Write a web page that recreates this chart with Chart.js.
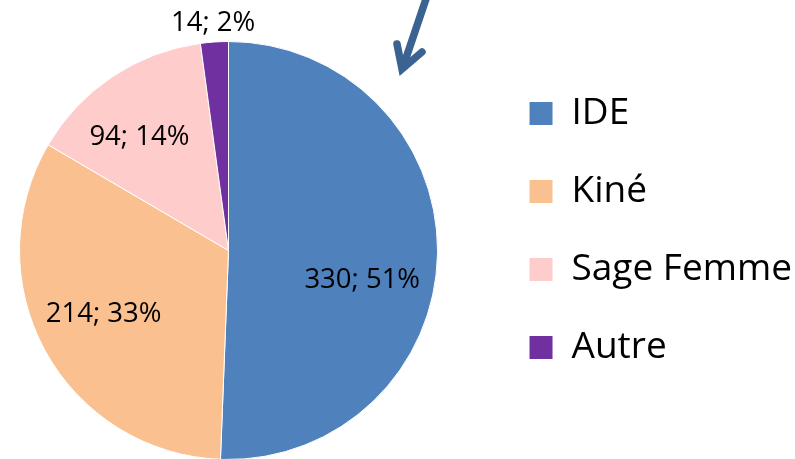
<!DOCTYPE html>
<html>
<head>
<meta charset="utf-8">
<script src="https://cdn.jsdelivr.net/npm/chart.js@4/dist/chart.umd.min.js"></script>
<style>
html, body { margin: 0; padding: 0; background: #fff; overflow: hidden; }
#wrap { width: 795px; height: 459px; position: relative; overflow: hidden; }
#box { position: absolute; left: -31px; top: 0; width: 833px; height: 459px; }
</style>
</head>
<body>
<div id="wrap"><div id="box"><canvas id="pieChart"></canvas></div></div>
<script>
// donnees
var categories = ['IDE', 'Kiné', 'Sage Femme', 'Autre'];
var counts = [330, 214, 94, 14];
var percents = [51, 33, 14, 2];

var sliceColors = ['#4F81BD', '#FAC090', '#FFCCCC', '#7030A0'];
// position des etiquettes : fraction du rayon + petit decalage
var labelDist = [0.64, 0.67, 0.70, 1.09];
var labelShiftX = [0, -2, -8, 0];
var labelShiftY = [27, -4, 8, 0];

var valueLabels = {
    id: 'valueLabels',
    afterDatasetsDraw: function(chart) {
        var ctx = chart.ctx;
        var arcs = chart.getDatasetMeta(0).data;
        ctx.save();
        ctx.font = '27.5px "Open Sans"';
        ctx.fillStyle = '#000';
        ctx.textAlign = 'center';
        ctx.textBaseline = 'middle';
        arcs.forEach(function(arc, i) {
            var p = arc.getProps(['x', 'y', 'startAngle', 'endAngle', 'outerRadius'], true);
            var mid = (p.startAngle + p.endAngle) / 2;
            var r = p.outerRadius * labelDist[i];
            var x = p.x + Math.cos(mid) * r + labelShiftX[i];
            var y = p.y + Math.sin(mid) * r + labelShiftY[i];
            ctx.fillText(counts[i] + '; ' + percents[i] + '%', x, y);
        });
        ctx.restore();
    }
};

// fleche au-dessus du graphique (coordonnees ecran, le canvas est decale de 31px)
var arrowMark = {
    id: 'arrowMark',
    afterDraw: function(chart) {
        var ctx = chart.ctx;
        ctx.save();
        ctx.translate(31, 0);
        ctx.strokeStyle = '#3A6391';
        ctx.lineWidth = 7.5;
        ctx.lineCap = 'round';
        ctx.lineJoin = 'miter';
        ctx.beginPath();
        ctx.moveTo(427, -4);
        ctx.lineTo(403, 67);
        ctx.stroke();
        ctx.beginPath();
        ctx.moveTo(397, 44);
        ctx.lineTo(402, 69);
        ctx.lineTo(422, 52);
        ctx.stroke();
        ctx.restore();
    }
};

var ctx = document.getElementById('pieChart').getContext('2d');
var pieChart = new Chart(ctx, {
    type: 'pie',
    data: {
        labels: categories,
        datasets: [{
            data: counts,
            backgroundColor: sliceColors,
            borderColor: '#ffffff',
            borderWidth: 1,
            clip: false
        }]
    },
    options: {
        responsive: true,
        maintainAspectRatio: false,
        animation: false,
        radius: 209,
        layout: {
            padding: { top: 42, left: 0, right: 0, bottom: 0 }
        },
        plugins: {
            tooltip: { enabled: false },
            legend: {
                position: 'right',
                align: 'start',
                title: { display: true, text: '', font: { size: 10 }, padding: 0 },
                labels: {
                    color: '#000',
                    font: { family: 'Open Sans', size: 37 },
                    boxWidth: 24,
                    boxHeight: 24,
                    padding: 41
                }
            }
        }
    },
    plugins: [valueLabels, arrowMark]
});
</script>
</body>
</html>
